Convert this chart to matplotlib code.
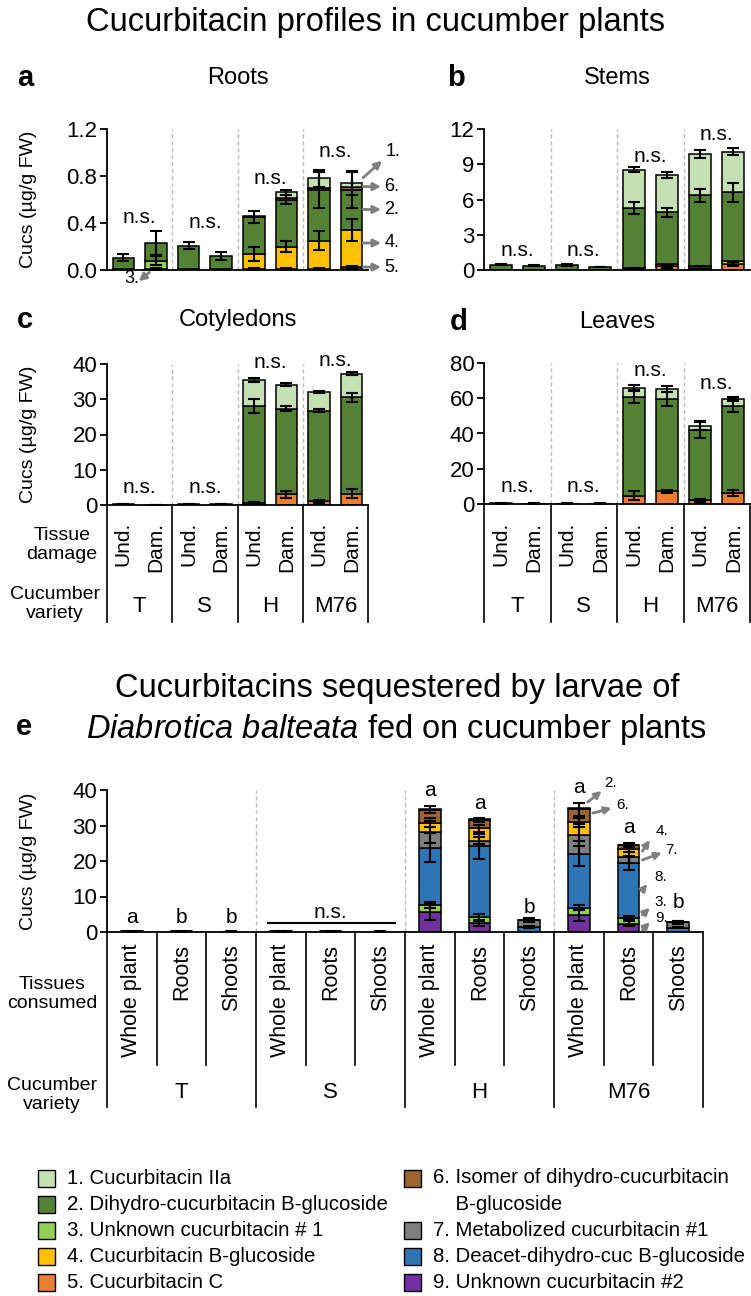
import numpy as np
import matplotlib.pyplot as plt
from matplotlib.patches import Rectangle
from matplotlib.transforms import blended_transform_factory

plt.rcParams['font.family'] = ['Liberation Sans', 'DejaVu Sans']
plt.rcParams['mathtext.fontset'] = 'custom'
plt.rcParams['mathtext.rm'] = 'Liberation Sans'
plt.rcParams['mathtext.it'] = 'Liberation Sans:italic'

# ---- labels
varieties = ['T', 'S', 'H', 'M76']
damage = ['Und.', 'Dam.'] * 4
tissues = ['Whole plant', 'Roots', 'Shoots'] * 4
names = {1: '1. Cucurbitacin IIa', 2: '2. Dihydro-cucurbitacin B-glucoside',
         3: '3. Unknown cucurbitacin # 1', 4: '4. Cucurbitacin B-glucoside',
         5: '5. Cucurbitacin C', 6: '6. Isomer of dihydro-cucurbitacin\n    B-glucoside',
         7: '7. Metabolized cucurbitacin #1', 8: '8. Deacet-dihydro-cuc B-glucoside',
         9: '9. Unknown cucurbitacin #2'}
colors = {1: '#c5e0b3', 2: '#548235', 3: '#92d050', 4: '#ffc000', 5: '#ed7d31',
          6: '#9c6530', 7: '#7f7f7f', 8: '#2e75b6', 9: '#7030a0'}

# ---- panel a: roots (ug/g FW), bars T-Und, T-Dam, S-Und, S-Dam, H-Und, H-Dam, M76-Und, M76-Dam
roots_vals = {
    9: [0, 0, 0, 0, 0, 0, 0, 0.01],
    5: [0.005, 0.01, 0.005, 0.008, 0.01, 0.01, 0.01, 0.015],
    3: [0, 0.07, 0, 0, 0, 0, 0, 0],
    4: [0, 0, 0, 0, 0.13, 0.19, 0.24, 0.315],
    2: [0.1, 0.15, 0.2, 0.11, 0.31, 0.40, 0.43, 0.34],
    6: [0, 0, 0, 0, 0.005, 0.01, 0.02, 0.025],
    1: [0, 0, 0, 0, 0.005, 0.05, 0.08, 0.035],
}
roots_err = {
    5: [0, 0.01, 0, 0, 0.01, 0.01, 0.01, 0.01],
    3: [0, 0.04, 0, 0, 0, 0, 0, 0],
    4: [0, 0, 0, 0, 0.06, 0.05, 0.08, 0.09],
    2: [0.03, 0.10, 0.03, 0.035, 0.05, 0.04, 0.15, 0.15],
    1: [0, 0, 0, 0, 0, 0.02, 0.07, 0.10],
}
roots_ns = [0.45, 0.40, 0.78, 1.01]

# ---- panel b: stems
stems_vals = {
    5: [0.02, 0.02, 0.02, 0.02, 0.1, 0.3, 0.2, 0.5],
    4: [0, 0, 0, 0, 0.1, 0.2, 0.15, 0.25],
    2: [0.43, 0.33, 0.40, 0.23, 5.1, 4.4, 6.0, 5.85],
    1: [0, 0, 0, 0, 3.25, 3.2, 3.55, 3.45],
}
stems_err = {
    5: [0, 0, 0, 0, 0.05, 0.15, 0.1, 0.2],
    2: [0.05, 0.05, 0.05, 0.03, 0.5, 0.4, 0.55, 0.8],
    1: [0, 0, 0, 0, 0.2, 0.25, 0.35, 0.3],
}
stems_ns = [1.7, 1.7, 9.7, 11.5]

# ---- panel c: cotyledons
coty_vals = {
    5: [0.05, 0.03, 0.1, 0.05, 0.6, 3.0, 1.0, 3.2],
    2: [0.15, 0.07, 0.2, 0.15, 27.6, 24.3, 25.7, 27.3],
    1: [0, 0, 0, 0, 7.2, 6.8, 5.3, 6.7],
}
coty_err = {
    5: [0, 0, 0, 0, 0.3, 1.0, 0.3, 1.2],
    2: [0.02, 0.02, 0.05, 0.03, 2.0, 0.7, 0.4, 1.4],
    1: [0, 0, 0, 0, 0.6, 0.4, 0.3, 0.4],
}
coty_ns = [5.1, 5.1, 40.3, 41.0]

# ---- panel d: leaves
leaf_vals = {
    5: [0.05, 0.05, 0.05, 0.05, 4.7, 7.2, 2.0, 6.2],
    2: [0.25, 0.2, 0.2, 0.2, 56.2, 52.3, 40.2, 49.6],
    1: [0, 0, 0, 0, 4.9, 5.7, 2.2, 3.7],
}
leaf_err = {
    5: [0, 0, 0, 0, 2.5, 1.0, 1.0, 1.5],
    2: [0.05, 0.05, 0.05, 0.05, 3.8, 4.0, 4.5, 3.5],
    1: [0, 0, 0, 0, 1.5, 1.5, 2.5, 1.2],
}
leaf_ns = [10.0, 10.0, 75.5, 68.6]

# ---- panel e: larvae, bars T/S/H/M76 x Whole plant, Roots, Shoots
larv_vals = {
    9: [0.05, 0.05, 0.03, 0.05, 0.05, 0.02, 5.6, 2.4, 0.1, 4.7, 2.3, 0.1],
    3: [0.02, 0.02, 0.01, 0.02, 0.02, 0.01, 2.1, 1.8, 0, 2.2, 1.7, 0],
    8: [0.1, 0.08, 0.05, 0.1, 0.08, 0.05, 16.1, 20.0, 1.3, 15.2, 15.5, 1.1],
    7: [0.05, 0.03, 0.05, 0.05, 0.03, 0.03, 4.4, 1.5, 2.0, 5.2, 1.5, 1.5],
    4: [0, 0, 0, 0, 0, 0, 2.6, 3.5, 0.05, 3.6, 2.3, 0.05],
    6: [0, 0, 0, 0, 0, 0, 3.6, 2.3, 0.05, 3.7, 1.2, 0.05],
    2: [0, 0, 0, 0, 0, 0, 0.2, 0.2, 0, 0.2, 0.1, 0],
}
larv_err = {
    9: [0, 0, 0, 0, 0, 0, 2.2, 0.8, 0, 1.5, 0.7, 0],
    3: [0, 0, 0, 0, 0, 0, 0.8, 0.8, 0, 0.8, 0.6, 0],
    8: [0, 0, 0, 0, 0, 0, 4.0, 3.5, 0.3, 3.5, 2.0, 0.2],
    7: [0.1, 0.1, 0.05, 0.1, 0.1, 0.05, 3.0, 1.0, 0.5, 3.0, 1.5, 0.4],
    4: [0, 0, 0, 0, 0, 0, 1.2, 1.0, 0, 1.2, 0.8, 0],
    6: [0, 0, 0, 0, 0, 0, 1.0, 0.5, 0.3, 1.8, 0.5, 0.3],
}
larv_letters = ['a', 'b', 'b', '', '', '', 'a', 'a', 'b', 'a', 'a', 'b']
larv_letter_y = [4.2, 4.2, 4.2, 0, 0, 0, 40.0, 36.3, 7.0, 40.6, 29.3, 8.2]

W, H = 751, 1296
fig = plt.figure(figsize=(W / 100, H / 100), dpi=100)


def box(x0, x1, y0, y1):
    return [x0 / W, 1 - y1 / H, (x1 - x0) / W, (y1 - y0) / H]


def fy(py):
    return 1 - py / H


def stacked(ax, order, vals, errs, width):
    n = len(vals[order[0]])
    x = np.arange(n)
    bottom = np.zeros(n)
    for k in order:
        v = np.array(vals[k], float)
        m = v > 0
        ax.bar(x[m], v[m], width, bottom=bottom[m], color=colors[k],
               edgecolor='black', linewidth=1.1, zorder=2)
        bottom = bottom + v
        e = np.array(errs.get(k, np.zeros(n)), float)
        m = e > 0
        if m.any():
            ax.errorbar(x[m], bottom[m], yerr=e[m], fmt='none', ecolor='black',
                        elinewidth=1.5, capsize=4, capthick=1.5, zorder=3)


def style(ax, n, ymax, ticks, ticklabels, seps):
    ax.set_xlim(-0.5, n - 0.5)
    ax.set_ylim(0, ymax)
    for s in ['top', 'right']:
        ax.spines[s].set_visible(False)
    for s in ['left', 'bottom']:
        ax.spines[s].set_linewidth(1.3)
    ax.set_yticks(ticks)
    ax.set_yticklabels(ticklabels)
    ax.set_xticks([])
    ax.tick_params(axis='y', length=5, width=1.3, labelsize=16, pad=2)
    for s in seps:
        ax.axvline(s, color='#bdbdbd', ls=(0, (3, 2)), lw=1.0, zorder=0)


a_order = [9, 5, 3, 4, 2, 6, 1]
panels = [
    ('a', 'Roots', box(107, 368, 129, 270), roots_vals, roots_err, roots_ns, 1.2,
     [0, 0.4, 0.8, 1.2], ['0.0', '0.4', '0.8', '1.2'], (17, 78), (238, 78)),
    ('b', 'Stems', box(484, 750, 129, 270), stems_vals, stems_err, stems_ns, 12,
     [0, 3, 6, 9, 12], ['0', '3', '6', '9', '12'], (447, 78), (617, 78)),
    ('c', 'Cotyledons', box(107, 368, 364, 505), coty_vals, coty_err, coty_ns, 40,
     [0, 10, 20, 30, 40], ['0', '10', '20', '30', '40'], (17, 320), (238, 320)),
    ('d', 'Leaves', box(484, 750, 363, 504), leaf_vals, leaf_err, leaf_ns, 80,
     [0, 20, 40, 60, 80], ['0', '20', '40', '60', '80'], (450, 322), (617, 322)),
]
axes = {}
for letter, title, rect, vals, errs, ns, ymax, ticks, tl, lpos, tpos in panels:
    ax = fig.add_axes(rect)
    axes[letter] = ax
    order = [k for k in a_order if k in vals]
    stacked(ax, order, vals, errs, 0.66)
    style(ax, 8, ymax, ticks, tl, [1.5, 3.5, 5.5])
    for g in range(4):
        ax.text(2 * g + 0.5, ns[g], 'n.s.', ha='center', va='center', fontsize=15, clip_on=False)
    fig.text(lpos[0] / W, fy(lpos[1]), letter, fontsize=21, fontweight='bold', ha='left', va='center')
    fig.text(tpos[0] / W, fy(tpos[1]), title, fontsize=17, ha='center', va='center')

for key in ['a', 'c']:
    pos = axes[key].get_position()
    fig.text(29 / W, pos.y0 + pos.height / 2, 'Cucs (µg/g FW)', rotation=90,
             fontsize=14, ha='center', va='center')

# table under c and d
for key in ['c', 'd']:
    ax = axes[key]
    tr = blended_transform_factory(ax.transData, fig.transFigure)
    bot = ax.get_position().y0
    for xb in [-0.5, 1.5, 3.5, 5.5, 7.5]:
        ax.plot([xb, xb], [bot, fy(622)], transform=tr, color='black', lw=1.2, clip_on=False)
    for i, lab in enumerate(damage):
        ax.text(i, fy(522), lab, transform=tr, rotation=90, ha='center', va='top', fontsize=15)
    for g, lab in enumerate(varieties):
        ax.text(2 * g + 0.5, fy(607), lab, transform=tr, ha='center', va='center', fontsize=16)
fig.text(62 / W, fy(545), 'Tissue\ndamage', ha='center', va='center', fontsize=14, linespacing=1.15)
fig.text(55 / W, fy(604), 'Cucumber\nvariety', ha='center', va='center', fontsize=14, linespacing=1.15)

# arrows for panel a
ax = axes['a']
arrow = dict(arrowstyle='-|>', color='#7f7f7f', lw=2.0, mutation_scale=11, shrinkA=0, shrinkB=0)
a_notes = [('1.', (7.35, 0.785), (7.93, 0.93), (8.05, 1.01)),
           ('6.', (7.35, 0.71), (7.9, 0.71), (8.0, 0.71)),
           ('2.', (7.35, 0.515), (7.9, 0.515), (8.0, 0.515)),
           ('4.', (7.35, 0.23), (7.9, 0.23), (8.0, 0.23)),
           ('5.', (7.35, 0.025), (7.9, 0.025), (8.0, 0.025))]
for lab, tail, head, tpos in a_notes:
    ax.annotate('', xy=head, xytext=tail, arrowprops=arrow, annotation_clip=False)
    ax.text(tpos[0], tpos[1], lab, ha='left', va='center', fontsize=13, clip_on=False)
ax.annotate('', xy=(0.47, -0.095), xytext=(0.8, -0.02), arrowprops=arrow, annotation_clip=False)
ax.text(0.27, -0.075, '3.', ha='center', va='center', fontsize=13, clip_on=False)

# ---- titles
fig.text(0.5, fy(22), 'Cucurbitacin profiles in cucumber plants', ha='center', va='center', fontsize=23.5)
fig.text(397 / W, fy(689), 'Cucurbitacins sequestered by larvae of', ha='center', va='center', fontsize=23.5)
fig.text(397 / W, fy(730), r'$\mathit{Diabrotica\ balteata}$ fed on cucumber plants',
         ha='center', va='center', fontsize=23.5)
fig.text(16 / W, fy(727), 'e', fontsize=21, fontweight='bold', ha='left', va='center')

# ---- panel e
ax = fig.add_axes(box(107, 703, 790, 932))
e_order = [9, 3, 8, 7, 4, 6, 2]
stacked(ax, e_order, larv_vals, larv_err, 0.43)
style(ax, 12, 40, [0, 10, 20, 30, 40], ['0', '10', '20', '30', '40'], [2.5, 5.5, 8.5])
for i, lab in enumerate(larv_letters):
    if lab:
        ax.text(i, larv_letter_y[i], lab, ha='center', va='center', fontsize=15, clip_on=False)
ax.plot([2.74, 5.29], [2.5, 2.5], color='black', lw=1.5, clip_on=False)
ax.text(4, 5.4, 'n.s.', ha='center', va='center', fontsize=15)
pos = ax.get_position()
fig.text(29 / W, pos.y0 + pos.height / 2, 'Cucs (µg/g FW)', rotation=90, fontsize=14, ha='center', va='center')

e_arrow = dict(arrowstyle='-|>', color='#7f7f7f', lw=2.0, mutation_scale=10, shrinkA=0, shrinkB=0)
e_notes = [('2.', (9.18, 36.6), (9.46, 39.7), (9.52, 42.0)),
           ('6.', (9.28, 33.5), (9.66, 34.9), (9.76, 35.8)),
           ('4.', (10.28, 22.8), (10.43, 25.9), (10.55, 28.5)),
           ('7.', (10.28, 20.3), (10.67, 22.3), (10.73, 23.1)),
           ('8.', (10.28, 11.8), (10.38, 13.5), (10.53, 15.5)),
           ('3.', (10.28, 4.8), (10.43, 6.8), (10.53, 8.5)),
           ('9.', (10.28, 0.6), (10.43, 2.8), (10.53, 3.9))]
for lab, tail, head, tpos in e_notes:
    ax.annotate('', xy=head, xytext=tail, arrowprops=e_arrow, annotation_clip=False)
    ax.text(tpos[0], tpos[1], lab, ha='left', va='center', fontsize=11, clip_on=False)

tr = blended_transform_factory(ax.transData, fig.transFigure)
bot = pos.y0
for xb in np.arange(-0.5, 12, 1.0):
    y_end = 1107 if xb in (-0.5, 2.5, 5.5, 8.5, 11.5) else 1065
    ax.plot([xb, xb], [bot, fy(y_end)], transform=tr, color='black', lw=1.2, clip_on=False)
for i, lab in enumerate(tissues):
    ax.text(i, fy(944), lab, transform=tr, rotation=90, ha='center', va='top', fontsize=15.5)
for g, lab in enumerate(varieties):
    ax.text(3 * g + 1, fy(1092), lab, transform=tr, ha='center', va='center', fontsize=16)
fig.text(52 / W, fy(994), 'Tissues\nconsumed', ha='center', va='center', fontsize=14, linespacing=1.15)
fig.text(52 / W, fy(1095), 'Cucumber\nvariety', ha='center', va='center', fontsize=14, linespacing=1.15)

# ---- legend
rows = {1: (0, 0), 2: (0, 1), 3: (0, 2), 4: (0, 3), 5: (0, 4),
        6: (1, 0), 7: (1, 2), 8: (1, 3), 9: (1, 4)}
col_x = [38, 404]
for k, (c, r) in rows.items():
    yc = 1178 + 26 * r
    fig.add_artist(Rectangle((col_x[c] / W, fy(yc + 8.5)), 17 / W, 17 / H, transform=fig.transFigure,
                             facecolor=colors[k], edgecolor='black', lw=1.0))
    if k == 6:
        fig.text((col_x[c] + 29) / W, fy(yc - 10), names[k], ha='left', va='top',
                 fontsize=14.7, linespacing=1.5)
    else:
        fig.text((col_x[c] + 29) / W, fy(yc), names[k], ha='left', va='center', fontsize=14.7)

fig.savefig('out.png', dpi=100)
